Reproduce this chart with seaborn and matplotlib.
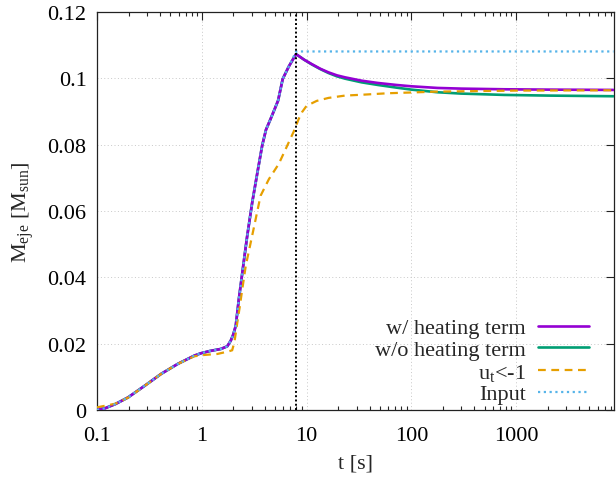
import matplotlib
matplotlib.use("Agg")
import matplotlib.pyplot as plt
import numpy as np
import pandas as pd
import seaborn as sns
from matplotlib.ticker import FixedLocator, LogLocator, NullFormatter

# ---- data ----
# common rise (w/ heating, w/o heating and input coincide up to the peak)
t_rise = [0.1, 0.107, 0.119, 0.15, 0.198, 0.285, 0.41, 0.59, 0.85, 0.98, 1.2, 1.52, 1.75,
          1.89, 2.0, 2.11, 2.26, 2.44, 2.7, 3.03, 3.4, 3.77, 4.1, 4.53, 5.0, 5.35, 5.92,
          6.75, 7.93]
m_rise = [0.0, 0.0003, 0.0005, 0.0018, 0.0038, 0.0073, 0.0109, 0.0139, 0.0164, 0.0171,
          0.0178, 0.0184, 0.0192, 0.0209, 0.0228, 0.0254, 0.0335, 0.0415, 0.052, 0.0626,
          0.0717, 0.0797, 0.0845, 0.0877, 0.091, 0.0933, 0.0998, 0.1035, 0.1073]

# decay after the peak
t_decay = [9.5, 11.2, 13.5, 16.2, 19.5, 23.3, 33.4, 48.0, 72.0, 100.0, 178.0, 300.0, 768.0,
           2000.0, 8500.0]
m_heat_decay = [0.1056, 0.1043, 0.1029, 0.1018, 0.1009, 0.1003, 0.0993, 0.0986, 0.0980,
                0.0976, 0.0971, 0.0969, 0.0967, 0.0966, 0.0965]
m_noheat_decay = [0.1056, 0.1042, 0.1028, 0.1016, 0.1006, 0.0999, 0.0988, 0.0980, 0.0972,
                  0.0966, 0.0958, 0.0954, 0.0950, 0.0948, 0.0946]

# u_t < -1 criterion
t_ut = [0.1, 0.15, 0.2, 0.285, 0.41, 0.59, 0.85, 1.06, 1.41, 1.76, 1.95, 2.05, 2.15, 2.3,
        2.45, 2.63, 3.0, 3.27, 3.64, 4.37, 5.43, 6.28, 7.53, 8.4, 9.05, 10.0, 12.5, 16.2,
        23.3, 36.0, 59.5, 178.0, 1000.0, 8500.0]
m_ut = [0.0008, 0.0019, 0.0038, 0.0073, 0.0109, 0.0139, 0.0162, 0.0166, 0.0169, 0.0176,
        0.0180, 0.0205, 0.025, 0.031, 0.037, 0.0435, 0.052, 0.0576, 0.0646, 0.0696, 0.0742,
        0.0785, 0.0839, 0.0877, 0.0898, 0.0917, 0.0932, 0.0941, 0.0948, 0.0951, 0.0955,
        0.096, 0.0963, 0.0964]

# input: rise then flat
t_input = t_rise[:-1] + [7.95, 8500.0]
m_input = m_rise[:-1] + [0.1081, 0.1081]

t_mark = 8.0  # vertical marker

labels = ["w/ heating term", "w/o heating term", r"u$_{\rm t}$<-1", "Input"]
colors = ["#9400d3", "#009e73", "#e69f00", "#56b4e9"]

# build tables
df_heat = pd.DataFrame({"t": t_rise + t_decay, "M": m_rise + m_heat_decay})
df_noheat = pd.DataFrame({"t": t_rise + t_decay, "M": m_rise + m_noheat_decay})
df_ut = pd.DataFrame({"t": t_ut, "M": m_ut})
df_input = pd.DataFrame({"t": t_input, "M": m_input})

sns.set_style("white")
plt.rcParams["font.family"] = ["Liberation Serif", "DejaVu Serif"]
plt.rcParams["mathtext.fontset"] = "custom"
plt.rcParams["mathtext.rm"] = "Liberation Serif"
plt.rcParams["mathtext.it"] = "Liberation Serif:italic"
font_size = 16

fig = plt.figure(figsize=(6.16, 4.81), dpi=100)
ax = fig.add_axes([97 / 616, 1 - 411 / 481, (613.5 - 97) / 616, (411 - 13) / 481])

# grid first so curves sit on top
ax.grid(True, which="major", color="#c8c8c8", linestyle=(0, (1, 2.5)), linewidth=0.7)

sns.lineplot(data=df_noheat, x="t", y="M", ax=ax, color=colors[1], lw=1.9,
             label=labels[1], estimator=None, sort=False, zorder=3)
sns.lineplot(data=df_heat, x="t", y="M", ax=ax, color=colors[0], lw=1.9,
             label=labels[0], estimator=None, sort=False, zorder=4)
sns.lineplot(data=df_ut, x="t", y="M", ax=ax, color=colors[2], lw=1.6,
             label=labels[2], estimator=None, sort=False, zorder=5)
sns.lineplot(data=df_input, x="t", y="M", ax=ax, color=colors[3], lw=1.6,
             label=labels[3], estimator=None, sort=False, zorder=6)
ax.lines[2].set_linestyle((0, (3.5, 2.5)))
ax.lines[3].set_linestyle((0, (1, 1.6)))

ax.axvline(t_mark, color="black", lw=1.4, ls=(0, (1, 1.2)), zorder=7)

ax.set_xscale("log")
ax.set_xlim(0.1, 8500)
ax.set_ylim(0, 0.12)

ax.xaxis.set_major_locator(FixedLocator([0.1, 1, 10, 100, 1000]))
ax.set_xticklabels(["0.1", "1", "10", "100", "1000"])
ax.xaxis.set_minor_locator(LogLocator(base=10, subs=np.arange(2, 10), numticks=20))
ax.xaxis.set_minor_formatter(NullFormatter())
yt = [0, 0.02, 0.04, 0.06, 0.08, 0.1, 0.12]
ax.set_yticks(yt)
ax.set_yticklabels(["0", "0.02", "0.04", "0.06", "0.08", "0.1", "0.12"])

ax.tick_params(axis="both", which="major", direction="in", length=5.8, width=0.8,
               top=True, right=True, labelsize=font_size, colors="#222222")
ax.tick_params(axis="x", which="major", pad=11.5)
ax.tick_params(axis="y", which="major", pad=7.5)
ax.tick_params(axis="x", which="minor", direction="in", length=3, width=0.8,
               top=True, bottom=True)
ax.tick_params(labelcolor="black")
for sp in ax.spines.values():
    sp.set_color("#222222")
    sp.set_linewidth(0.9)

ax.set_xlabel("t [s]", fontsize=font_size, labelpad=6.5)
ax.set_ylabel(r"M$_{\rm eje}$ [M$_{\rm sun}$]", fontsize=font_size, labelpad=8)

handles, labs = ax.get_legend_handles_labels()
order = [labs.index(l) for l in labels]
ax.legend([handles[i] for i in order], [labs[i] for i in order],
          loc="lower right", bbox_to_anchor=(0.983, -0.025), frameon=False,
          markerfirst=False, fontsize=font_size, handlelength=2.3,
          handletextpad=0.55, labelspacing=0.06, borderaxespad=0.3)

fig.savefig("out.png", dpi=100)
